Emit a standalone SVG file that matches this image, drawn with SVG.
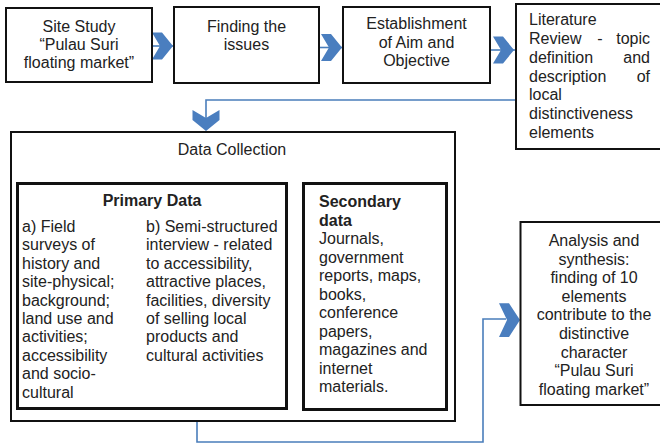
<svg xmlns="http://www.w3.org/2000/svg" width="660" height="444" viewBox="0 0 660 444">
  <style>
    text { font-family: "Liberation Sans", Arial, sans-serif; font-size: 16px; fill: #222; }
    .c { text-anchor: middle; }
    .e { text-anchor: end; }
    .b { font-weight: bold; }
    .box { fill: #fff; stroke: #111; stroke-width: 2; }
    .thick { fill: #fff; stroke: #111; stroke-width: 3; }
    .link { fill: none; stroke: #4a7ebb; stroke-width: 1.6; }
    .chev { fill: #4a7ebf; }
  </style>
  <defs>
    <!-- right-pointing chevron, tip at origin -->
    <path id="chev" d="M-21,-13.5 L-11,-13.5 L0,0 L-11,13.5 L-21,13.5 L-13,0 Z"/>
  </defs>

  <rect width="660" height="444" fill="#fff"/>

  <!-- connectors -->
  <g id="connectors">
    <line class="link" x1="152" y1="46" x2="174" y2="46"/>
    <line class="link" x1="319" y1="47.5" x2="343" y2="47.5"/>
    <line class="link" x1="490" y1="50" x2="516" y2="50"/>
    <polyline class="link" points="516,100 206,100 206,125"/>
    <polyline class="link" points="197,421 197,442 483,442 483,319 506,319"/>
    <use href="#chev" class="chev" transform="translate(173,46)"/>
    <use href="#chev" class="chev" transform="translate(342,47.5)"/>
    <use href="#chev" class="chev" transform="translate(514,50)"/>
    <use href="#chev" class="chev" transform="translate(206,131) rotate(90)"/>
    <use href="#chev" class="chev" transform="translate(520,320) scale(1,1.25)"/>
  </g>

  <g id="site-study">
    <rect class="box" x="6" y="8" width="146" height="74"/>
    <text class="c" x="79" y="32">Site Study</text>
    <text class="c" x="79" y="50">“Pulau Suri</text>
    <text class="c" x="79" y="68">floating market”</text>
  </g>

  <g id="finding-issues">
    <rect class="box" x="174" y="7" width="145" height="76"/>
    <text class="c" x="246.5" y="32">Finding the</text>
    <text class="c" x="246.5" y="50">issues</text>
  </g>

  <g id="aim-objective">
    <rect class="box" x="343" y="7" width="147" height="76"/>
    <text class="c" x="416.5" y="29">Establishment</text>
    <text class="c" x="416.5" y="47.5">of Aim and</text>
    <text class="c" x="416.5" y="66">Objective</text>
  </g>

  <g id="literature-review">
    <rect class="box" x="516" y="4" width="150" height="145"/>
    <text x="529" y="25">Literature</text>
    <text x="529" y="44">Review</text>
    <text class="c" x="600" y="44">-</text>
    <text class="e" x="650" y="44">topic</text>
    <text x="529" y="63">definition</text>
    <text class="e" x="650" y="63">and</text>
    <text x="529" y="82">description</text>
    <text class="e" x="650" y="82">of</text>
    <text x="529" y="100">local</text>
    <text x="529" y="119">distinctiveness</text>
    <text x="529" y="138">elements</text>
  </g>

  <g id="data-collection">
    <rect class="box" x="11" y="132" width="444" height="289"/>
    <text class="c" x="232" y="155">Data Collection</text>
  </g>

  <g id="primary-data">
    <rect class="thick" x="17.5" y="183.5" width="269" height="225"/>
    <text class="c b" x="152" y="206">Primary Data</text>
    <text x="22" y="232">a) Field</text>
    <text x="22" y="250.4">surveys of</text>
    <text x="22" y="268.8">history and</text>
    <text x="22" y="287.2">site-physical;</text>
    <text x="22" y="305.6">background;</text>
    <text x="22" y="324">land use and</text>
    <text x="22" y="342.4">activities;</text>
    <text x="22" y="360.8">accessibility</text>
    <text x="22" y="379.2">and socio-</text>
    <text x="22" y="397.6">cultural</text>
    <text x="146" y="232">b) Semi-structured</text>
    <text x="146" y="250.4">interview - related</text>
    <text x="146" y="268.8">to accessibility,</text>
    <text x="146" y="287.2">attractive places,</text>
    <text x="146" y="305.6">facilities, diversity</text>
    <text x="146" y="324">of selling local</text>
    <text x="146" y="342.4">products and</text>
    <text x="146" y="360.8">cultural activities</text>
  </g>

  <g id="secondary-data">
    <rect class="thick" x="303.5" y="183.5" width="143" height="226"/>
    <text class="b" x="319" y="207">Secondary</text>
    <text class="b" x="319" y="225.5">data</text>
    <text x="319" y="244">Journals,</text>
    <text x="319" y="262.5">government</text>
    <text x="319" y="281">reports, maps,</text>
    <text x="319" y="299.5">books,</text>
    <text x="319" y="318">conference</text>
    <text x="319" y="336.5">papers,</text>
    <text x="319" y="355">magazines and</text>
    <text x="319" y="373.5">internet</text>
    <text x="319" y="392">materials.</text>
  </g>

  <g id="analysis-synthesis">
    <rect class="box" x="520.5" y="222" width="148" height="183" stroke-width="2.5"/>
    <text class="c" x="594" y="246">Analysis and</text>
    <text class="c" x="594" y="264.6">synthesis:</text>
    <text class="c" x="594" y="283.2">finding of 10</text>
    <text class="c" x="594" y="301.8">elements</text>
    <text class="c" x="594" y="320.4">contribute to the</text>
    <text class="c" x="594" y="339">distinctive</text>
    <text class="c" x="594" y="357.6">character</text>
    <text class="c" x="594" y="376.2">“Pulau Suri</text>
    <text class="c" x="594" y="394.8">floating market”</text>
  </g>
</svg>
